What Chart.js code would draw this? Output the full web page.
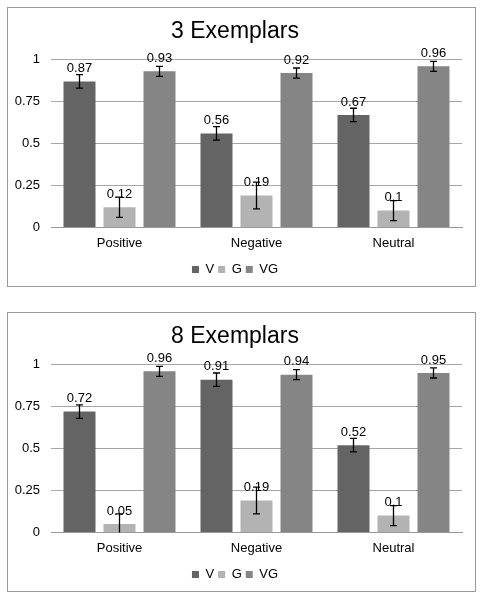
<!DOCTYPE html>
<html>
<head>
<meta charset="utf-8">
<script src="https://cdn.jsdelivr.net/npm/chart.js@4/dist/chart.umd.min.js"></script>
<style>
  body { margin: 0; background: #fff; width: 483px; height: 599px; position: relative; }
  .box { position: absolute; left: 7px; width: 469px; height: 280px; border: 1px solid #999; box-sizing: border-box; background: #fff; overflow: hidden; }
  #box1 { top: 7px; }
  #box2 { top: 312px; }
  canvas { display: block; }
</style>
</head>
<body>
<div class="box" id="box1"><canvas id="chart3" width="467" height="282"></canvas></div>
<div class="box" id="box2"><canvas id="chart8" width="467" height="282"></canvas></div>
<script>
// categories and series
const categories = ['Positive', 'Negative', 'Neutral'];
const seriesNames = ['V', 'G', 'VG'];
const yTicks = [0, 0.25, 0.5, 0.75, 1];

// 3 exemplars
const v3 = [0.87, 0.56, 0.67];
const g3 = [0.12, 0.19, 0.1];
const vg3 = [0.93, 0.92, 0.96];
const v3Err = [0.04, 0.04, 0.04];
const g3Err = [0.06, 0.08, 0.06];
const vg3Err = [0.03, 0.03, 0.03];

// 8 exemplars
const v8 = [0.72, 0.91, 0.52];
const g8 = [0.05, 0.19, 0.1];
const vg8 = [0.96, 0.94, 0.95];
const v8Err = [0.04, 0.04, 0.04];
const g8Err = [0.06, 0.08, 0.06];
const vg8Err = [0.03, 0.03, 0.03];

const colors = ['#646464', '#b3b3b3', '#858585'];
const FONT = '"Liberation Sans", Arial, sans-serif';

// draws error bars and value labels over the bars
const barExtras = {
    id: 'barExtras',
    afterDatasetsDraw(chart) {
        const ctx = chart.ctx;
        const y = chart.scales.y;
        ctx.save();
        chart.data.datasets.forEach((ds, di) => {
            const meta = chart.getDatasetMeta(di);
            meta.data.forEach((bar, i) => {
                const val = ds.data[i];
                const err = ds.errors[i];
                const top = y.getPixelForValue(Math.min(val + err, 1.05));
                const bot = y.getPixelForValue(Math.max(val - err, 0));
                ctx.strokeStyle = '#000';
                ctx.lineWidth = 1.3;
                ctx.beginPath();
                ctx.moveTo(bar.x, top);
                ctx.lineTo(bar.x, bot);
                ctx.moveTo(bar.x - 3.5, top);
                ctx.lineTo(bar.x + 3.5, top);
                if (val - err >= 0) {
                    ctx.moveTo(bar.x - 3.5, bot);
                    ctx.lineTo(bar.x + 3.5, bot);
                }
                ctx.stroke();
            });
        });
        chart.data.datasets.forEach((ds, di) => {
            const meta = chart.getDatasetMeta(di);
            meta.data.forEach((bar, i) => {
                ctx.fillStyle = '#000';
                ctx.font = '13px ' + FONT;
                ctx.textAlign = 'center';
                ctx.textBaseline = 'middle';
                ctx.fillText(String(ds.data[i]), bar.x, bar.y - 13);
            });
        });
        ctx.restore();
    }
};

function makeChart(id, title, vals, errs) {
    new Chart(document.getElementById(id), {
        type: 'bar',
        data: {
            labels: categories,
            datasets: seriesNames.map((name, k) => ({
                label: name,
                data: vals[k],
                errors: errs[k],
                backgroundColor: colors[k],
                borderWidth: 0,
                categoryPercentage: 0.876,
                barPercentage: 0.8
            }))
        },
        options: {
            responsive: false,
            animation: false,
            events: [],
            layout: { padding: { left: 0, right: 13, top: 8, bottom: 4 } },
            plugins: {
                title: {
                    display: true,
                    text: title,
                    color: '#000',
                    font: { family: FONT, size: 23, weight: 'normal' },
                    padding: { top: 2, bottom: 14 }
                },
                legend: {
                    position: 'bottom',
                    labels: {
                        color: '#000',
                        font: { family: FONT, size: 13 },
                        boxWidth: 7,
                        boxHeight: 7,
                        padding: 4
                    }
                },
                tooltip: { enabled: false }
            },
            scales: {
                x: {
                    grid: { display: false, drawTicks: false },
                    border: { color: '#999', width: 1 },
                    ticks: { color: '#000', font: { family: FONT, size: 13 }, padding: 8 }
                },
                y: {
                    min: 0,
                    max: 1,
                    afterFit(scale) { scale.width = 43; },
                    afterBuildTicks(scale) { scale.ticks = yTicks.map(v => ({ value: v })); },
                    grid: { color: '#a6a6a6', drawTicks: false },
                    border: { display: false },
                    ticks: {
                        color: '#000',
                        font: { family: FONT, size: 13 },
                        padding: 11,
                        callback: v => String(v)
                    }
                }
            }
        },
        plugins: [barExtras]
    });
}

makeChart('chart3', '3 Exemplars', [v3, g3, vg3], [v3Err, g3Err, vg3Err]);
makeChart('chart8', '8 Exemplars', [v8, g8, vg8], [v8Err, g8Err, vg8Err]);
</script>
</body>
</html>
